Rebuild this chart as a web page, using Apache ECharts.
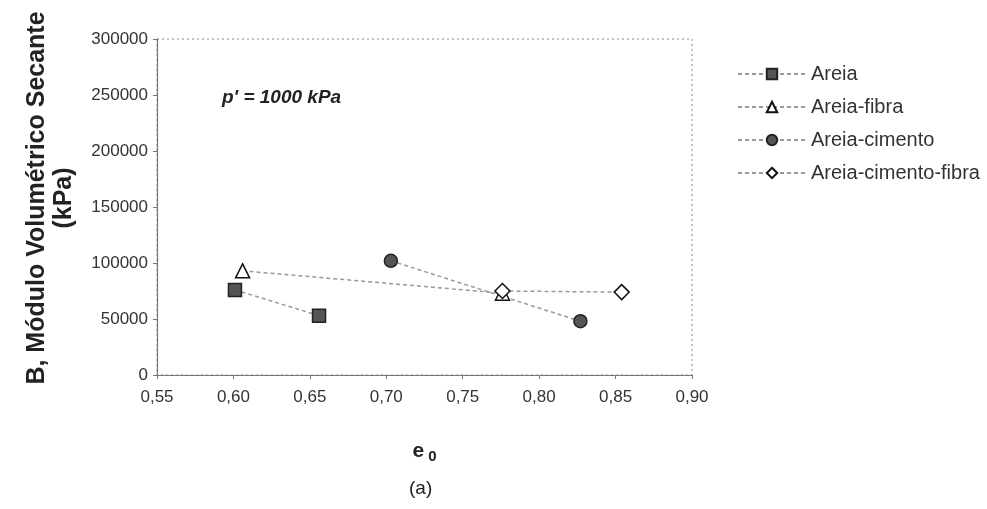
<!DOCTYPE html>
<html>
<head>
<meta charset="utf-8">
<script src="https://cdn.jsdelivr.net/npm/echarts@6/dist/echarts.min.js"></script>
<style>
  html, body { margin: 0; padding: 0; background: #fff; }
  #chart { width: 987px; height: 509px; }
</style>
</head>
<body>
<div id="chart"></div>
<script>
// e0 vs B (kPa), p' = 1000 kPa
const seriesNames = ['Areia', 'Areia-fibra', 'Areia-cimento', 'Areia-cimento-fibra'];
const areia = [[0.601, 76000], [0.656, 53000]];
const areiaFibra = [[0.606, 93000], [0.776, 73000]];
const areiaCimento = [[0.703, 102000], [0.827, 48000]];
const areiaCimentoFibra = [[0.776, 75000], [0.854, 74000]];

const font = 'Liberation Sans, Arial, sans-serif';
let chart = echarts.init(document.getElementById('chart'));

function makeSeries(name, data, symbol, size, fill, edge) {
  return {
    name: name,
    type: 'line',
    data: data,
    symbol: symbol,
    symbolSize: size,
    showAllSymbol: true,
    lineStyle: { color: '#999', width: 1.5, type: [4, 3] },
    itemStyle: { color: fill, borderColor: edge, borderWidth: 1.5 },
    emphasis: { disabled: true },
    z: 3
  };
}

chart.setOption({
  animation: false,
  textStyle: { fontFamily: font },
  grid: {
    left: 157, right: 295, top: 39, bottom: 134,
    show: true,
    borderColor: '#888',
    borderWidth: 1,
    borderType: [2, 3]
  },
  legend: {
    orient: 'vertical',
    left: 732,
    top: 59,
    itemWidth: 68,
    itemHeight: 13,
    itemGap: 13,
    textStyle: { fontSize: 20, color: '#333' },
    data: seriesNames
  },
  xAxis: {
    type: 'value',
    min: 0.55,
    max: 0.90,
    interval: 0.05,
    name: '{e|e}{s| 0}',
    nameLocation: 'middle',
    nameGap: 64,
    nameTextStyle: {
      rich: {
        e: { fontSize: 21, fontWeight: 'bold', color: '#222' },
        s: { fontSize: 15, fontWeight: 'bold', color: '#222', padding: [10, 0, 0, 0] }
      }
    },
    axisLine: { show: true, lineStyle: { color: '#777', width: 1.2 } },
    axisTick: { show: true, length: 4, lineStyle: { color: '#777' } },
    axisLabel: {
      fontSize: 17, color: '#333', margin: 14,
      formatter: v => v.toFixed(2).replace('.', ',')
    },
    splitLine: { show: false }
  },
  yAxis: {
    type: 'value',
    min: 0,
    max: 300000,
    interval: 50000,
    axisLine: { show: true, lineStyle: { color: '#777', width: 1.2 } },
    axisTick: { show: true, length: 4, lineStyle: { color: '#777' } },
    axisLabel: { fontSize: 17, color: '#333', margin: 9, formatter: v => String(v) },
    splitLine: { show: false }
  },
  graphic: [
    {
      type: 'text', x: 51, y: 198, rotation: Math.PI / 2,
      style: {
        text: 'B, Módulo Volumétrico Secante\n(kPa)',
        fontSize: 25, fontWeight: 'bold', lineHeight: 27,
        align: 'center', verticalAlign: 'middle',
        fill: '#222', fontFamily: font
      }
    },
    {
      type: 'text', left: 222, top: 88,
      style: { text: "p' = 1000 kPa", fontSize: 19, fontWeight: 'bold', fontStyle: 'italic', fill: '#222', fontFamily: font }
    },
    {
      type: 'text', left: 409, top: 479,
      style: { text: '(a)', fontSize: 19, fill: '#222', fontFamily: font }
    }
  ],
  series: [
    makeSeries(seriesNames[0], areia, 'rect', 13, '#555', '#222'),
    makeSeries(seriesNames[1], areiaFibra, 'triangle', 14, '#fff', '#111'),
    makeSeries(seriesNames[2], areiaCimento, 'circle', 13, '#555', '#222'),
    makeSeries(seriesNames[3], areiaCimentoFibra, 'diamond', 15, '#fff', '#111')
  ]
});
</script>
</body>
</html>
